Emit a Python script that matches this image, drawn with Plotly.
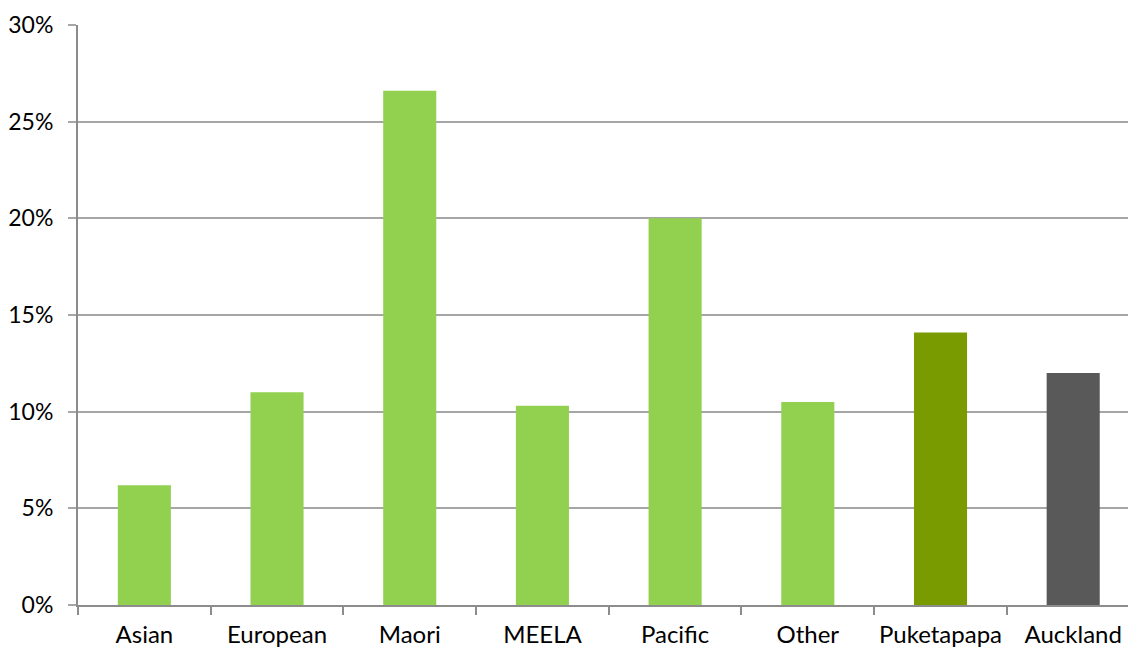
import plotly.graph_objects as go

# Share of each group (percent)
categories = ["Asian", "European", "Maori", "MEELA", "Pacific", "Other", "Puketapapa", "Auckland"]
values = [6.2, 11.0, 26.6, 10.3, 20.0, 10.5, 14.1, 12.0]
bar_colors = ["#92D050"] * 6 + ["#799B00", "#595959"]

y_ticks = [0, 5, 10, 15, 20, 25, 30]
y_tick_labels = ["0%", "5%", "10%", "15%", "20%", "25%", "30%"]

fig = go.Figure(
    go.Bar(
        x=categories,
        y=values,
        marker=dict(color=bar_colors, line=dict(width=0)),
        width=0.4,
        hoverinfo="x+y",
    )
)

fig.update_layout(
    width=1128,
    height=650,
    margin=dict(l=78, r=0, t=25, b=45, autoexpand=False),
    paper_bgcolor="white",
    plot_bgcolor="white",
    showlegend=False,
    font=dict(family="Lato, Open Sans, sans-serif", size=24, color="#000000"),
)

fig.update_xaxes(
    type="category",
    range=[-0.5, 7.413],
    automargin=False,
    tickangle=0,
    showgrid=False,
    showline=True,
    linecolor="#8C8C8C",
    linewidth=2,
    ticks="outside",
    tickson="boundaries",
    ticklen=8,
    tickwidth=2,
    tickcolor="#8C8C8C",
    ticklabelstandoff=7,
    tickfont=dict(size=24),
    zeroline=False,
)

fig.update_yaxes(
    range=[0, 30],
    automargin=False,
    tickvals=y_ticks,
    ticktext=y_tick_labels,
    showgrid=True,
    gridcolor="#A6A6A6",
    gridwidth=2,
    showline=True,
    linecolor="#8C8C8C",
    linewidth=2,
    ticks="outside",
    ticklen=8,
    tickwidth=2,
    tickcolor="#A6A6A6",
    ticklabelstandoff=10,
    tickfont=dict(size=23),
    zeroline=False,
)

fig.write_html("out.html")
